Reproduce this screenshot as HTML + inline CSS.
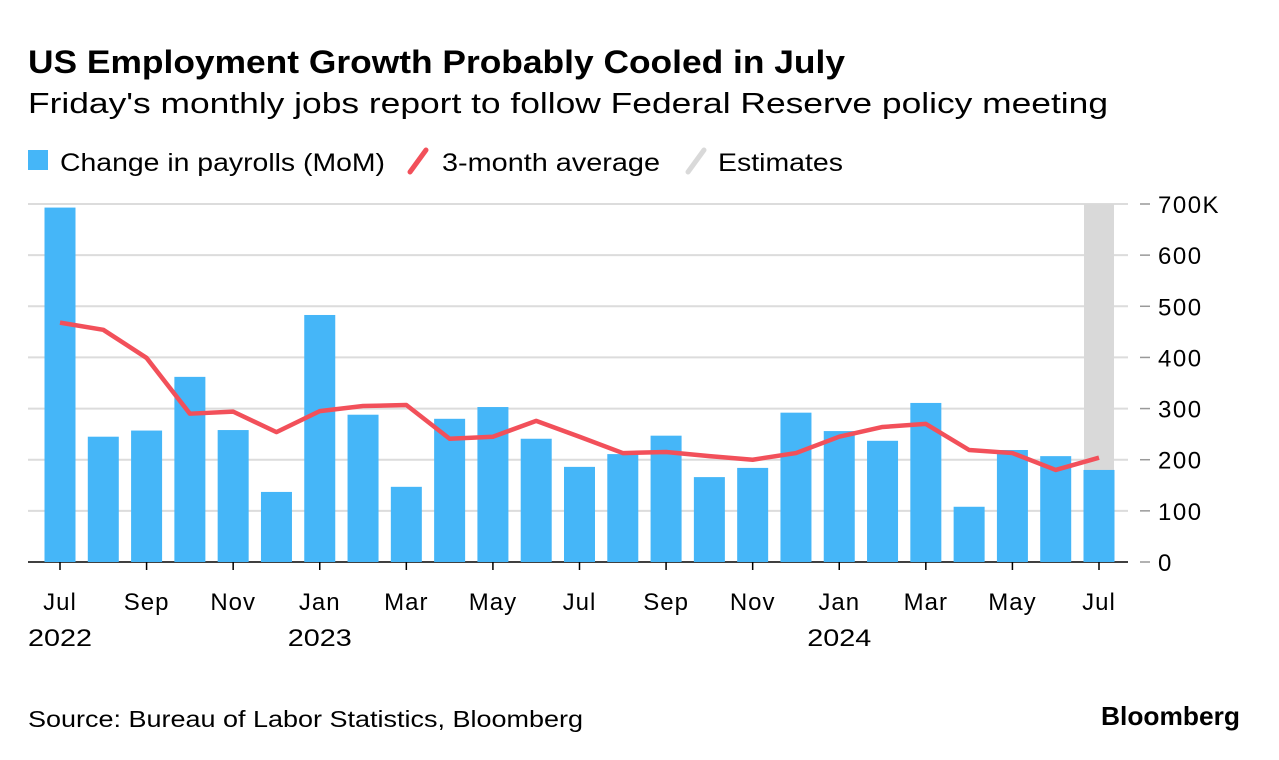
<!DOCTYPE html>
<html><head><meta charset="utf-8"><style>
body{margin:0;background:#fff;font-family:"Liberation Sans",sans-serif;}
svg{display:block}
</style></head><body>
<svg width="1279" height="760">
<text x="28" y="73" font-size="32" font-weight="bold" fill="#000" textLength="817" lengthAdjust="spacingAndGlyphs">US Employment Growth Probably Cooled in July</text>
<text x="28" y="113" font-size="29" fill="#000" textLength="1080" lengthAdjust="spacingAndGlyphs">Friday's monthly jobs report to follow Federal Reserve policy meeting</text>
<g>
<rect x="28" y="150" width="20" height="20" fill="#45b6f8"/>
<text x="60" y="171" font-size="25" fill="#000" textLength="325" lengthAdjust="spacingAndGlyphs">Change in payrolls (MoM)</text>
<line x1="410" y1="172" x2="426" y2="150" stroke="#f2505a" stroke-width="5" stroke-linecap="round"/>
<text x="442" y="171" font-size="25" fill="#000" textLength="218" lengthAdjust="spacingAndGlyphs">3-month average</text>
<line x1="688" y1="172" x2="704" y2="150" stroke="#d9d9d9" stroke-width="5" stroke-linecap="round"/>
<text x="718" y="171" font-size="25" fill="#000" textLength="125" lengthAdjust="spacingAndGlyphs">Estimates</text>
</g>
<g id="plot"></g>
<text x="28" y="727" font-size="23" fill="#000" textLength="555" lengthAdjust="spacingAndGlyphs">Source: Bureau of Labor Statistics, Bloomberg</text>
<text x="1101" y="725" font-size="26" font-weight="bold" fill="#000" textLength="139" lengthAdjust="spacingAndGlyphs">Bloomberg</text>
</svg>
<script>
const months=["Jul","Aug","Sep","Oct","Nov","Dec","Jan","Feb","Mar","Apr","May","Jun","Jul","Aug","Sep","Oct","Nov","Dec","Jan","Feb","Mar","Apr","May","Jun","Jul"];
const payrolls=[693,245,257,362,258,137,483,288,147,280,303,241,186,211,247,166,184,292,256,237,311,108,219,207,180];
const avg3=[468,454,399,290,294,254,295,305,307,241,245,276,245,213,215,207,200,213,245,264,270,219,213,180,204];
const yTicks=[0,100,200,300,400,500,600,700];
const yTickLabels=["0","100","200","300","400","500","600","700K"];
const estimateIndex=[24];
const years={0:"2022",6:"2023",18:"2024"};
const NS="http://www.w3.org/2000/svg";
const g=document.getElementById('plot');
const y0=562,yTop=204,xL=28,xR=1128;
const y=v=>y0-(v/700)*(y0-yTop);
const x=i=>60+i*(1099-60)/24;
function mk(t,a){const e=document.createElementNS(NS,t);for(const k in a)e.setAttribute(k,a[k]);g.appendChild(e);return e;}
yTicks.forEach((v,i)=>{
 const l=mk('line',{x1:xL,x2:xR,y1:y(v),y2:y(v),stroke:v===0?'#000':'#dcdcdc','stroke-width':v===0?1.5:2});
 
 
 const tk=mk('line',{x1:1140,x2:1150,y1:y(v),y2:y(v),stroke:'#999','stroke-width':1.5});
 
 
 const t=mk('text',{x:1158,y:y(v)+9,'font-size':24,fill:'#000','letter-spacing':1.5});t.textContent=yTickLabels[i];
 
 
});
estimateIndex.forEach(i=>{
 const r=mk('rect',{x:x(i)-15,y:yTop,width:30,height:y0-yTop,fill:'#d9d9d9'});
 
 
});
payrolls.forEach((v,i)=>{
 const r=mk('rect',{x:x(i)-15.5,y:y(v),width:31,height:y0-y(v),fill:'#45b6f8'});
 
 
});
const p=mk('polyline',{points:avg3.map((v,i)=>x(i)+','+y(v)).join(' '),fill:'none',stroke:'#f2505a','stroke-width':4.5,'stroke-linejoin':'round'});


months.forEach((m,i)=>{
 if(i%2) return;
 const tk=mk('line',{x1:x(i),x2:x(i),y1:y0,y2:y0+8,stroke:'#000','stroke-width':1.5});
 
 
 const t=mk('text',{x:x(i),y:610,'font-size':24,'text-anchor':'middle',fill:'#000','letter-spacing':1});t.textContent=m;
 
 
 if(years[i]){const yt=mk('text',{x:x(i)-32,y:646,'font-size':24,fill:'#000',textLength:64,lengthAdjust:'spacingAndGlyphs'});yt.textContent=years[i];
 
 }
});
</script>
</body></html>
